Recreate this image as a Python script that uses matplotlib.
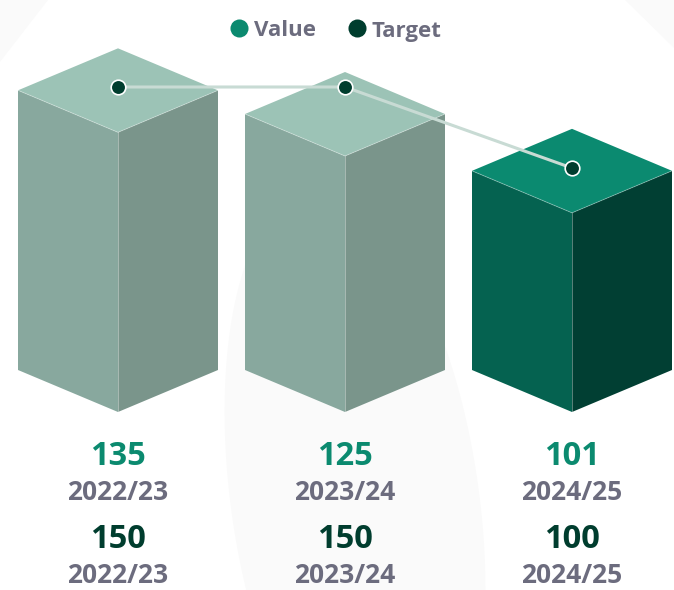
import matplotlib
matplotlib.use('Agg')
import matplotlib.pyplot as plt
import numpy as np
from matplotlib.patches import Polygon
from matplotlib.transforms import blended_transform_factory

# ---------------- data ----------------
categories = ['2022/23', '2023/24', '2024/25']
values = [135, 125, 101]
targets = [150, 150, 100]
highlight = [False, False, True]

# ---------------- styles ----------------
W, H = 674, 590
FONT = 'Open Sans'
GRAY_TXT = '#6c6c7e'
VAL_COL = '#0b8a6f'
TGT_COL = '#003d2e'
LINE_COL = '#c8dbd4'
BG_COL = '#fafafa'
FACE_GRAY = dict(top='#9cc3b6', left='#88a89e', right='#7a958b')
FACE_HI = dict(top='#0b8a70', left='#056250', right='#013f33')

plt.rcParams['font.family'] = [FONT, 'DejaVu Sans']

fig = plt.figure(figsize=(W / 100, H / 100), dpi=100)
fig.patch.set_facecolor('white')

# background decoration (pixel coordinates)
bg = fig.add_axes([0, 0, 1, 1], zorder=0)
bg.set_xlim(0, W)
bg.set_ylim(H, 0)
bg.axis('off')
bg.add_patch(Polygon([(0, 0), (48, 0), (0, 62)], closed=True, fc=BG_COL, ec='none'))
bg.add_patch(Polygon([(625, 0), (W, 0), (W, 48)], closed=True, fc=BG_COL, ec='none'))
tt = np.linspace(0, 2 * np.pi, 240)
ey = 500 + 310 * np.sin(tt)
ex = 355 + 125 * np.cos(tt) + 0.12 * (ey - 500)
bg.add_patch(Polygon(np.column_stack([ex, ey]), closed=True, fc=BG_COL, ec='none'))

# legend (manual)
bg.plot([239], [28], 'o', ms=13, color=VAL_COL, mec='none')
bg.text(254, 36.5, 'Value', fontsize=16, fontweight='bold', color=GRAY_TXT, va='baseline', ha='left')
bg.plot([357], [28], 'o', ms=13, color=TGT_COL, mec='none')
bg.text(372, 36.5, 'Target', fontsize=16, fontweight='bold', color=GRAY_TXT, va='baseline', ha='left')

# ---------------- value axis (boxes) ----------------
PX_PER_UNIT = 2.368
OFFSET = 452          # pixel row of value 0 (front edge)
SLOT = 227            # pixels per category
X0 = 118              # pixel column of first category
ax = fig.add_axes([0, 0, 1, 1], zorder=1)
ax.patch.set_alpha(0)
ax.set_xlim(-X0 / SLOT, (W - X0) / SLOT)
ax.set_ylim((OFFSET - H) / PX_PER_UNIT, OFFSET / PX_PER_UNIT)
ax.axis('off')

x = np.arange(len(categories))
hw = 100 / SLOT                       # half width in data units
d = 42 / PX_PER_UNIT                  # top face half-depth in data units
base = (OFFSET - 412) / PX_PER_UNIT   # bottom front vertex level

for xi, v, hi in zip(x, values, highlight):
    c = FACE_HI if hi else FACE_GRAY
    left = [(xi - hw, base + d), (xi, base), (xi, v), (xi - hw, v + d)]
    right = [(xi, base), (xi + hw, base + d), (xi + hw, v + d), (xi, v)]
    top = [(xi - hw, v + d), (xi, v), (xi + hw, v + d), (xi, v + 2 * d)]
    ax.add_patch(Polygon(left, closed=True, fc=c['left'], ec='none'))
    ax.add_patch(Polygon(right, closed=True, fc=c['right'], ec='none'))
    ax.add_patch(Polygon(top, closed=True, fc=c['top'], ec='none'))
    # subtle seams
    ax.plot([xi, xi], [base, v], color='white', alpha=0.35, lw=0.7)
    ax.plot([xi - hw, xi, xi + hw], [v + d, v, v + d], color='white', alpha=0.3, lw=0.7)

# labels below boxes
blend = blended_transform_factory(ax.transData, ax.transAxes)
def fy(p):
    return 1 - p / H

for xi, v, t, cat in zip(x, values, targets, categories):
    ax.text(xi, fy(465), f'{v}', transform=blend, ha='center', va='baseline',
            fontsize=23.5, fontweight='bold', color=VAL_COL)
    ax.text(xi, fy(500), cat, transform=blend, ha='center', va='baseline',
            fontsize=19, fontweight='bold', color=GRAY_TXT)
    ax.text(xi, fy(548), f'{t}', transform=blend, ha='center', va='baseline',
            fontsize=23.5, fontweight='bold', color=TGT_COL)
    ax.text(xi, fy(583), cat, transform=blend, ha='center', va='baseline',
            fontsize=19, fontweight='bold', color=GRAY_TXT)

# ---------------- target axis ----------------
T_PX = 1.62
T_OFFSET = 330
ax2 = fig.add_axes([0, 0, 1, 1], zorder=2)
ax2.patch.set_alpha(0)
ax2.set_xlim(ax.get_xlim())
ax2.set_ylim((T_OFFSET - H) / T_PX, T_OFFSET / T_PX)
ax2.axis('off')
ax2.plot(x, targets, color=LINE_COL, lw=2.2, solid_capstyle='round', zorder=1)
ax2.plot(x, targets, 'o', ms=10.5, mfc=TGT_COL, mec='white', mew=1.2, zorder=2)

fig.savefig('out.png', dpi=100, facecolor='white')
